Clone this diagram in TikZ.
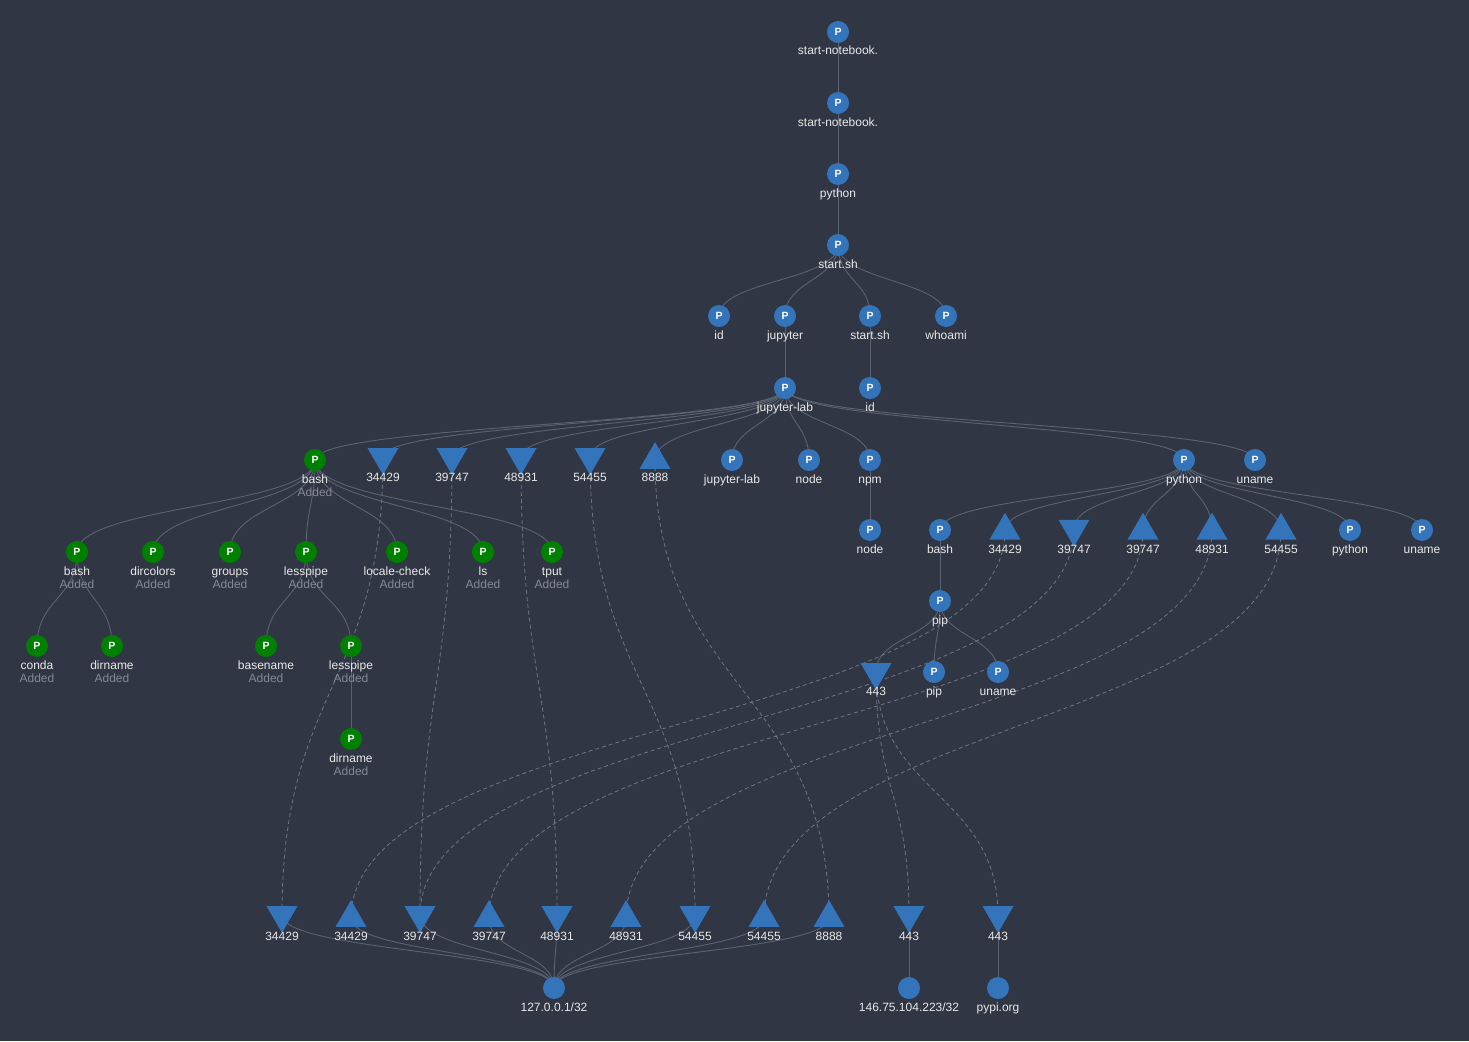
\documentclass[tikz,border=0pt]{standalone}
\usepackage{fontspec}
\setmainfont{Liberation Sans}
\usetikzlibrary{shapes.geometric,calc}
\definecolor{bgc}{HTML}{303643}
\definecolor{pblue}{HTML}{3474BA}
\definecolor{pgreen}{HTML}{008000}
\definecolor{edgec}{HTML}{5B6271}
\definecolor{dashc}{HTML}{6E7686}
\definecolor{lblc}{HTML}{E8E8E8}
\definecolor{addc}{HTML}{838A96}
\pgfdeclarelayer{background}
\pgfsetlayers{background,main}
\tikzset{
  pnode/.style={circle, minimum size=22pt, inner sep=0pt, text=white, font=\bfseries\fontsize{10.5}{10.5}\selectfont},
  hnode/.style={circle, fill=pblue, minimum size=22pt, inner sep=0pt},
  lbl/.style={text=lblc, anchor=base, inner sep=0pt, font=\fontsize{12}{12}\selectfont},
  addlbl/.style={text=addc, anchor=base, inner sep=0pt, font=\fontsize{12}{12}\selectfont},
  tri/.style={regular polygon, regular polygon sides=3, fill=pblue, minimum size=35.8pt, inner sep=0pt},
  tup/.style={tri},
  tdown/.style={tri, shape border rotate=180},
  edge/.style={draw=edgec, line width=0.9pt},
  dedge/.style={draw=dashc, line width=0.8pt, dash pattern=on 4pt off 3pt},
}
% blue process node
\newcommand\PB[4]{\node[pnode,fill=pblue] (#1) at (#2,#3) {P}; \node[lbl] at (#2,#3+23) {#4};}
% green (added) process node
\newcommand\PG[4]{\node[pnode,fill=pgreen] (#1) at (#2,#3) {P}; \node[lbl] at (#2,#3+23) {#4}; \node[addlbl] at (#2,#3+36) {Added};}
% triangles: name, x, y, label, label baseline
\newcommand\TU[5]{\node[tup] (#1) at (#2,#3) {}; \node[lbl] at (#2,#5) {#4};}
\newcommand\TD[5]{\node[tdown] (#1) at (#2,#3) {}; \node[lbl] at (#2,#5) {#4};}
% host circle
\newcommand\HC[4]{\node[hnode] (#1) at (#2,#3) {}; \node[lbl] at (#2,#3+23) {#4};}
% vertical link
\newcommand\lk[3][edge]{\path[#1] let \p1=(#2.center), \p2=(#3.center) in (\p1) .. controls (\x1,{(\y1+\y2)/2}) and (\x2,{(\y1+\y2)/2}) .. (\p2);}
\begin{document}
\begin{tikzpicture}[x=1pt,y=-1pt]
\begin{pgfonlayer}{background}
\fill[bgc] (0,0) rectangle (1469,1041);
\end{pgfonlayer}
\useasboundingbox (0,0) rectangle (1469,1041);
% top chain
\PB{n1}{838}{32}{start-notebook.}
\PB{n2}{838}{103}{start-notebook.}
\PB{n3}{838}{174}{python}
\PB{n4}{838}{245}{start.sh}
\PB{id1}{719}{316}{id}
\PB{jup}{785}{316}{jupyter}
\PB{ss2}{870}{316}{start.sh}
\PB{who}{946}{316}{whoami}
\PB{jl}{785}{388}{jupyter-lab}
\PB{id2}{870}{388}{id}
% jupyter-lab children
\PG{gb}{315}{460}{bash}
\TD{ta}{383}{457}{34429}{481}
\TD{tb}{452}{457}{39747}{481}
\TD{tc}{521}{457}{48931}{481}
\TD{td}{590}{457}{54455}{481}
\TU{te}{655}{460}{8888}{481}
\PB{jl2}{732}{460}{jupyter-lab}
\PB{nd1}{809}{460}{node}
\PB{npm}{870}{460}{npm}
\PB{py2}{1184}{460}{python}
\PB{un1}{1255}{460}{uname}
% green subtree
\PG{g1}{77}{552}{bash}
\PG{g2}{153}{552}{dircolors}
\PG{g3}{230}{552}{groups}
\PG{g4}{306}{552}{lesspipe}
\PG{g5}{397}{552}{locale-check}
\PG{g6}{483}{552}{ls}
\PG{g7}{552}{552}{tput}
\PG{g8}{37}{646}{conda}
\PG{g9}{112}{646}{dirname}
\PG{g10}{266}{646}{basename}
\PG{g11}{351}{646}{lesspipe}
\PG{g12}{351}{739}{dirname}
% right subtree
\PB{nd2}{870}{530}{node}
\PB{b2}{940}{530}{bash}
\TU{ra}{1005}{530.6}{34429}{553}
\TD{rb}{1074}{528.7}{39747}{553}
\TU{rc}{1143}{530.6}{39747}{553}
\TU{rd}{1212}{530.6}{48931}{553}
\TU{re}{1281}{530.6}{54455}{553}
\PB{py3}{1350}{530}{python}
\PB{un2}{1422}{530}{uname}
\PB{pip}{940}{601}{pip}
\TD{t443}{876}{672}{443}{695}
\PB{pip2}{934}{672}{pip}
\PB{un3}{998}{672}{uname}
% bottom sockets
\TD{s1}{282}{915}{34429}{940}
\TU{s2}{351}{918}{34429}{940}
\TD{s3}{420}{915}{39747}{940}
\TU{s4}{489}{918}{39747}{940}
\TD{s5}{557}{915}{48931}{940}
\TU{s6}{626}{918}{48931}{940}
\TD{s7}{695}{915}{54455}{940}
\TU{s8}{764}{918}{54455}{940}
\TU{s9}{829}{918}{8888}{940}
\TD{s10}{909}{915}{443}{940}
\TD{s11}{998}{915}{443}{940}
\HC{lo}{554}{988}{127.0.0.1/32}
\HC{ipx}{909}{988}{146.75.104.223/32}
\HC{pypi}{998}{988}{pypi.org}
% edges
\begin{pgfonlayer}{background}
\lk{n1}{n2}\lk{n2}{n3}\lk{n3}{n4}
\lk{n4}{id1}\lk{n4}{jup}\lk{n4}{ss2}\lk{n4}{who}
\lk{jup}{jl}\lk{ss2}{id2}
\lk{jl}{gb}\lk{jl}{ta}\lk{jl}{tb}\lk{jl}{tc}\lk{jl}{td}\lk{jl}{te}
\lk{jl}{jl2}\lk{jl}{nd1}\lk{jl}{npm}\lk{jl}{py2}\lk{jl}{un1}
\lk{npm}{nd2}
\lk{gb}{g1}\lk{gb}{g2}\lk{gb}{g3}\lk{gb}{g4}\lk{gb}{g5}\lk{gb}{g6}\lk{gb}{g7}
\lk{g1}{g8}\lk{g1}{g9}\lk{g4}{g10}\lk{g4}{g11}\lk{g11}{g12}
\lk{py2}{b2}\lk{py2}{ra}\lk{py2}{rb}\lk{py2}{rc}\lk{py2}{rd}\lk{py2}{re}\lk{py2}{py3}\lk{py2}{un2}
\lk{b2}{pip}\lk{pip}{t443}\lk{pip}{pip2}\lk{pip}{un3}
\lk{s1}{lo}\lk{s2}{lo}\lk{s3}{lo}\lk{s4}{lo}\lk{s5}{lo}\lk{s6}{lo}\lk{s7}{lo}\lk{s8}{lo}\lk{s9}{lo}
\lk{s10}{ipx}\lk{s11}{pypi}
% dashed socket links
\lk[dedge]{ta}{s1}\lk[dedge]{tb}{s3}\lk[dedge]{tc}{s5}\lk[dedge]{td}{s7}\lk[dedge]{te}{s9}
\lk[dedge]{ra}{s2}\lk[dedge]{rb}{s3}\lk[dedge]{rc}{s4}\lk[dedge]{rd}{s6}\lk[dedge]{re}{s8}
\lk[dedge]{t443}{s10}\lk[dedge]{t443}{s11}
\end{pgfonlayer}
\end{tikzpicture}
\end{document}
